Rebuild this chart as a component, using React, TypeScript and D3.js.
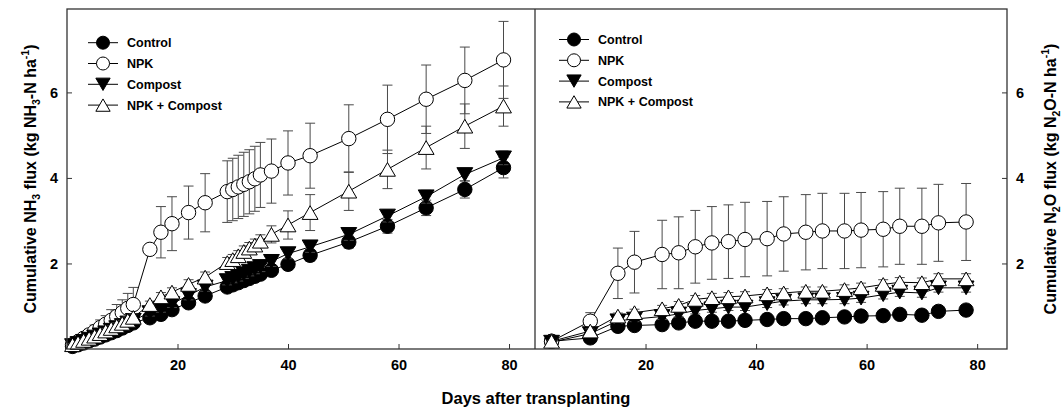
import { useEffect, useRef } from 'react';
import * as d3 from 'd3';

// ---- data ----
const seriesNames = ['Control', 'NPK', 'Compost', 'NPK + Compost'];

// left panel: cumulative NH3 flux
const daysNH3 = [1, 2, 3, 4, 5, 6, 7, 8, 9, 10, 11, 12, 15, 17, 19, 22, 25, 29, 30, 31, 32, 33, 34, 35, 37, 40, 44, 51, 58, 65, 72, 79];
const nh3Control = [0.06, 0.1, 0.14, 0.19, 0.23, 0.28, 0.33, 0.38, 0.43, 0.49, 0.55, 0.61, 0.73, 0.81, 0.92, 1.08, 1.24, 1.45, 1.5, 1.55, 1.6, 1.65, 1.7, 1.75, 1.84, 1.98, 2.19, 2.5, 2.87, 3.3, 3.73, 4.24];
const nh3ControlErr = [0.02, 0.03, 0.03, 0.04, 0.04, 0.05, 0.05, 0.06, 0.06, 0.07, 0.07, 0.08, 0.08, 0.08, 0.09, 0.09, 0.1, 0.1, 0.1, 0.1, 0.1, 0.11, 0.11, 0.11, 0.12, 0.12, 0.13, 0.14, 0.16, 0.18, 0.2, 0.24];
const nh3NPK = [0.1, 0.17, 0.25, 0.33, 0.41, 0.5, 0.58, 0.67, 0.76, 0.85, 0.95, 1.04, 2.33, 2.73, 2.93, 3.19, 3.42, 3.68, 3.73, 3.79, 3.85, 3.91, 3.98, 4.07, 4.16, 4.35, 4.52, 4.92, 5.37, 5.84, 6.28, 6.76];
const nh3NPKErr = [0.05, 0.08, 0.1, 0.13, 0.15, 0.18, 0.2, 0.25, 0.28, 0.3, 0.35, 0.4, 0.1, 0.6, 0.63, 0.62, 0.68, 0.72, 0.73, 0.74, 0.75, 0.75, 0.76, 0.76, 0.75, 0.75, 0.76, 0.79, 0.8, 0.8, 0.78, 0.9];
const nh3Compost = [0.08, 0.13, 0.18, 0.23, 0.28, 0.33, 0.38, 0.44, 0.5, 0.55, 0.61, 0.67, 0.85, 0.95, 1.06, 1.25, 1.45, 1.6, 1.65, 1.7, 1.76, 1.82, 1.88, 1.93, 2.05, 2.23, 2.39, 2.68, 3.11, 3.56, 4.08, 4.47];
const nh3CompostErr = [0.02, 0.03, 0.03, 0.04, 0.04, 0.05, 0.05, 0.06, 0.06, 0.07, 0.07, 0.08, 0.08, 0.09, 0.09, 0.1, 0.1, 0.1, 0.1, 0.11, 0.11, 0.11, 0.12, 0.12, 0.12, 0.12, 0.13, 0.14, 0.14, 0.15, 0.15, 0.16];
const nh3NPKC = [0.1, 0.15, 0.2, 0.25, 0.3, 0.36, 0.42, 0.48, 0.54, 0.6, 0.67, 0.74, 1.04, 1.22, 1.33, 1.51, 1.68, 2.02, 2.09, 2.18, 2.28, 2.36, 2.43, 2.52, 2.68, 2.9, 3.19, 3.69, 4.2, 4.71, 5.21, 5.68];
const nh3NPKCErr = [0.03, 0.03, 0.04, 0.04, 0.05, 0.05, 0.06, 0.06, 0.07, 0.07, 0.08, 0.08, 0.08, 0.1, 0.1, 0.11, 0.12, 0.12, 0.12, 0.12, 0.13, 0.13, 0.14, 0.15, 0.2, 0.33, 0.42, 0.45, 0.45, 0.5, 0.52, 0.47];

// right panel: cumulative N2O flux
const daysN2O = [3, 10, 15, 18, 23, 26, 29, 32, 35, 38, 42, 45, 49, 52, 56, 59, 63, 66, 70, 73, 78];
const n2oControl = [0.18, 0.26, 0.53, 0.55, 0.57, 0.61, 0.65, 0.65, 0.65, 0.67, 0.69, 0.71, 0.71, 0.73, 0.75, 0.77, 0.78, 0.81, 0.79, 0.88, 0.91];
const n2oControlErr = [0.02, 0.03, 0.04, 0.04, 0.04, 0.04, 0.04, 0.04, 0.04, 0.04, 0.05, 0.05, 0.05, 0.05, 0.05, 0.05, 0.05, 0.05, 0.05, 0.06, 0.06];
const n2oNPK = [0.18, 0.65, 1.77, 2.03, 2.21, 2.25, 2.39, 2.48, 2.51, 2.56, 2.58, 2.69, 2.73, 2.76, 2.76, 2.78, 2.8, 2.87, 2.87, 2.95, 2.97];
const n2oNPKErr = [0.03, 0.2, 0.59, 0.72, 0.8, 0.84, 0.85, 0.85, 0.86, 0.87, 0.87, 0.87, 0.88, 0.88, 0.88, 0.88, 0.88, 0.89, 0.89, 0.9, 0.9];
const n2oCompost = [0.16, 0.36, 0.66, 0.7, 0.76, 0.82, 0.9, 0.94, 0.98, 0.98, 1.06, 1.12, 1.15, 1.15, 1.16, 1.19, 1.27, 1.33, 1.31, 1.43, 1.43];
const n2oCompostErr = [0.02, 0.04, 0.06, 0.06, 0.07, 0.07, 0.08, 0.08, 0.08, 0.08, 0.09, 0.09, 0.09, 0.09, 0.1, 0.1, 0.1, 0.1, 0.1, 0.1, 0.1];
const n2oNPKC = [0.18, 0.42, 0.77, 0.85, 0.94, 1.02, 1.16, 1.2, 1.22, 1.24, 1.29, 1.31, 1.35, 1.35, 1.39, 1.43, 1.51, 1.56, 1.55, 1.64, 1.64];
const n2oNPKCErr = [0.02, 0.05, 0.07, 0.08, 0.08, 0.09, 0.09, 0.1, 0.1, 0.1, 0.1, 0.1, 0.1, 0.1, 0.11, 0.11, 0.11, 0.11, 0.11, 0.12, 0.12];

const xTicks = [20, 40, 60, 80];
const yTicks = [2, 4, 6];

type Kind = 'circle' | 'up' | 'down';
const kinds: Kind[] = ['circle', 'circle', 'down', 'up'];
const fills = ['#000', '#fff', '#000', '#fff'];

const font = "'Liberation Sans', Arial, sans-serif";

function addMarker(g: any, kind: Kind, fill: string, cx: number, cy: number, r: number) {
  if (kind === 'circle') {
    g.append('circle').attr('cx', cx).attr('cy', cy).attr('r', r)
      .attr('fill', fill).attr('stroke', '#000').attr('stroke-width', 1);
  } else {
    const w = r * 1.1, h = r * 0.95;
    const d = kind === 'up'
      ? `M${cx},${cy - h}L${cx + w},${cy + h}L${cx - w},${cy + h}Z`
      : `M${cx},${cy + h}L${cx + w},${cy - h}L${cx - w},${cy - h}Z`;
    g.append('path').attr('d', d).attr('fill', fill).attr('stroke', '#000').attr('stroke-width', 1);
  }
}

export default function App() {
  const ref = useRef<SVGSVGElement>(null);

  useEffect(() => {
    const svg = d3.select(ref.current);
    svg.selectAll('*').remove();

    const top = 9, bottom = 349;
    const y = d3.scaleLinear().domain([0, 7.95]).range([bottom, top]);
    const xL = d3.scaleLinear().domain([0, 84.7]).range([67, 535]);
    const xR = d3.scaleLinear().domain([0, 85.4]).range([535, 1007]);

    const panels = [
      {
        x: xL, days: daysNH3,
        vals: [nh3Control, nh3NPK, nh3Compost, nh3NPKC],
        errs: [nh3ControlErr, nh3NPKErr, nh3CompostErr, nh3NPKCErr],
        legend: { x: 103, y: 42.7 },
      },
      {
        x: xR, days: daysN2O,
        vals: [n2oControl, n2oNPK, n2oCompost, n2oNPKC],
        errs: [n2oControlErr, n2oNPKErr, n2oCompostErr, n2oNPKCErr],
        legend: { x: 574, y: 39.5 },
      },
    ];

    const styleTicks = (a: any) => {
      a.select('.domain').remove();
      a.selectAll('line').attr('stroke', '#333');
      a.selectAll('text').attr('font-family', font).attr('font-weight', 'bold').attr('font-size', 14.5).attr('fill', '#000');
    };

    panels.forEach((p) => {
      const g = svg.append('g');
      p.vals.forEach((vals, si) => {
        const errs = p.errs[si];
        const eg = g.append('g').attr('stroke', '#4a4a4a').attr('stroke-width', 1);
        p.days.forEach((d, i) => {
          const cx = p.x(d);
          const hi = y(vals[i] + errs[i]);
          const lo = y(vals[i] - errs[i]);
          eg.append('line').attr('x1', cx).attr('x2', cx).attr('y1', hi).attr('y2', lo);
          eg.append('line').attr('x1', cx - 5).attr('x2', cx + 5).attr('y1', hi).attr('y2', hi);
          eg.append('line').attr('x1', cx - 5).attr('x2', cx + 5).attr('y1', lo).attr('y2', lo);
        });
        const line = d3.line<number>().x((_, i) => p.x(p.days[i])).y((v) => y(v));
        g.append('path').attr('d', line(vals)).attr('fill', 'none').attr('stroke', '#000').attr('stroke-width', 1);
        const mg = g.append('g');
        p.days.forEach((d, i) => addMarker(mg, kinds[si], fills[si], p.x(d), y(vals[i]), 7.2));
      });

      // legend
      const lg = svg.append('g');
      seriesNames.forEach((name, si) => {
        const ly = p.legend.y + si * 20.8;
        lg.append('line').attr('x1', p.legend.x - 15).attr('x2', p.legend.x + 15)
          .attr('y1', ly).attr('y2', ly).attr('stroke', '#000');
        addMarker(lg, kinds[si], fills[si], p.legend.x, ly, 6.5);
        lg.append('text').attr('x', p.legend.x + 24).attr('y', ly + 4.5)
          .attr('font-family', font).attr('font-weight', 'bold').attr('font-size', 12.5)
          .text(name);
      });

      // x axis
      svg.append('g').attr('transform', `translate(0,${bottom})`)
        .call(d3.axisBottom(p.x).tickValues(xTicks).tickSize(-5).tickPadding(11).tickFormat(d3.format('d')))
        .call(styleTicks);
    });

    // y axes
    svg.append('g').attr('transform', 'translate(67,0)')
      .call(d3.axisLeft(y).tickValues(yTicks).tickSize(-5).tickPadding(9).tickFormat(d3.format('d')))
      .call(styleTicks);
    svg.append('g').attr('transform', 'translate(1007,0)')
      .call(d3.axisRight(y).tickValues(yTicks).tickSize(-5).tickPadding(9).tickFormat(d3.format('d')))
      .call(styleTicks);

    // frame
    const frame = svg.append('g').attr('stroke', '#333').attr('stroke-width', 1.3).attr('fill', 'none');
    frame.append('rect').attr('x', 67).attr('y', top).attr('width', 1007 - 67).attr('height', bottom - top);
    frame.append('line').attr('x1', 535).attr('x2', 535).attr('y1', top).attr('y2', bottom);

    // axis titles
    const title = (tx: number, parts: [string, number][]) => {
      const t = svg.append('text').attr('transform', `translate(${tx},179) rotate(-90)`)
        .attr('text-anchor', 'middle').attr('font-family', font).attr('font-weight', 'bold')
        .attr('font-size', 16).attr('fill', '#000');
      let prev = 0;
      parts.forEach(([s, shift]) => {
        t.append('tspan').attr('dy', shift - prev).attr('font-size', shift === 0 ? 16 : 10.5).text(s);
        prev = shift;
      });
    };
    title(36, [['Cumulative NH', 0], ['3', 4], [' flux (kg NH', 0], ['3', 4], ['-N ha', 0], ['-1', -7], [')', 0]]);
    title(1056, [['Cumulative N', 0], ['2', 4], ['O flux (kg N', 0], ['2', 4], ['O-N ha', 0], ['-1', -7], [')', 0]]);

    svg.append('text').attr('x', 536).attr('y', 404).attr('text-anchor', 'middle')
      .attr('font-family', font).attr('font-weight', 'bold').attr('font-size', 16.5).attr('fill', '#000')
      .text('Days after transplanting');
  }, []);

  return (
    <svg ref={ref} width={1063} height={412}
      style={{ position: 'absolute', left: 0, top: 0, background: '#fff' }} />
  );
}
